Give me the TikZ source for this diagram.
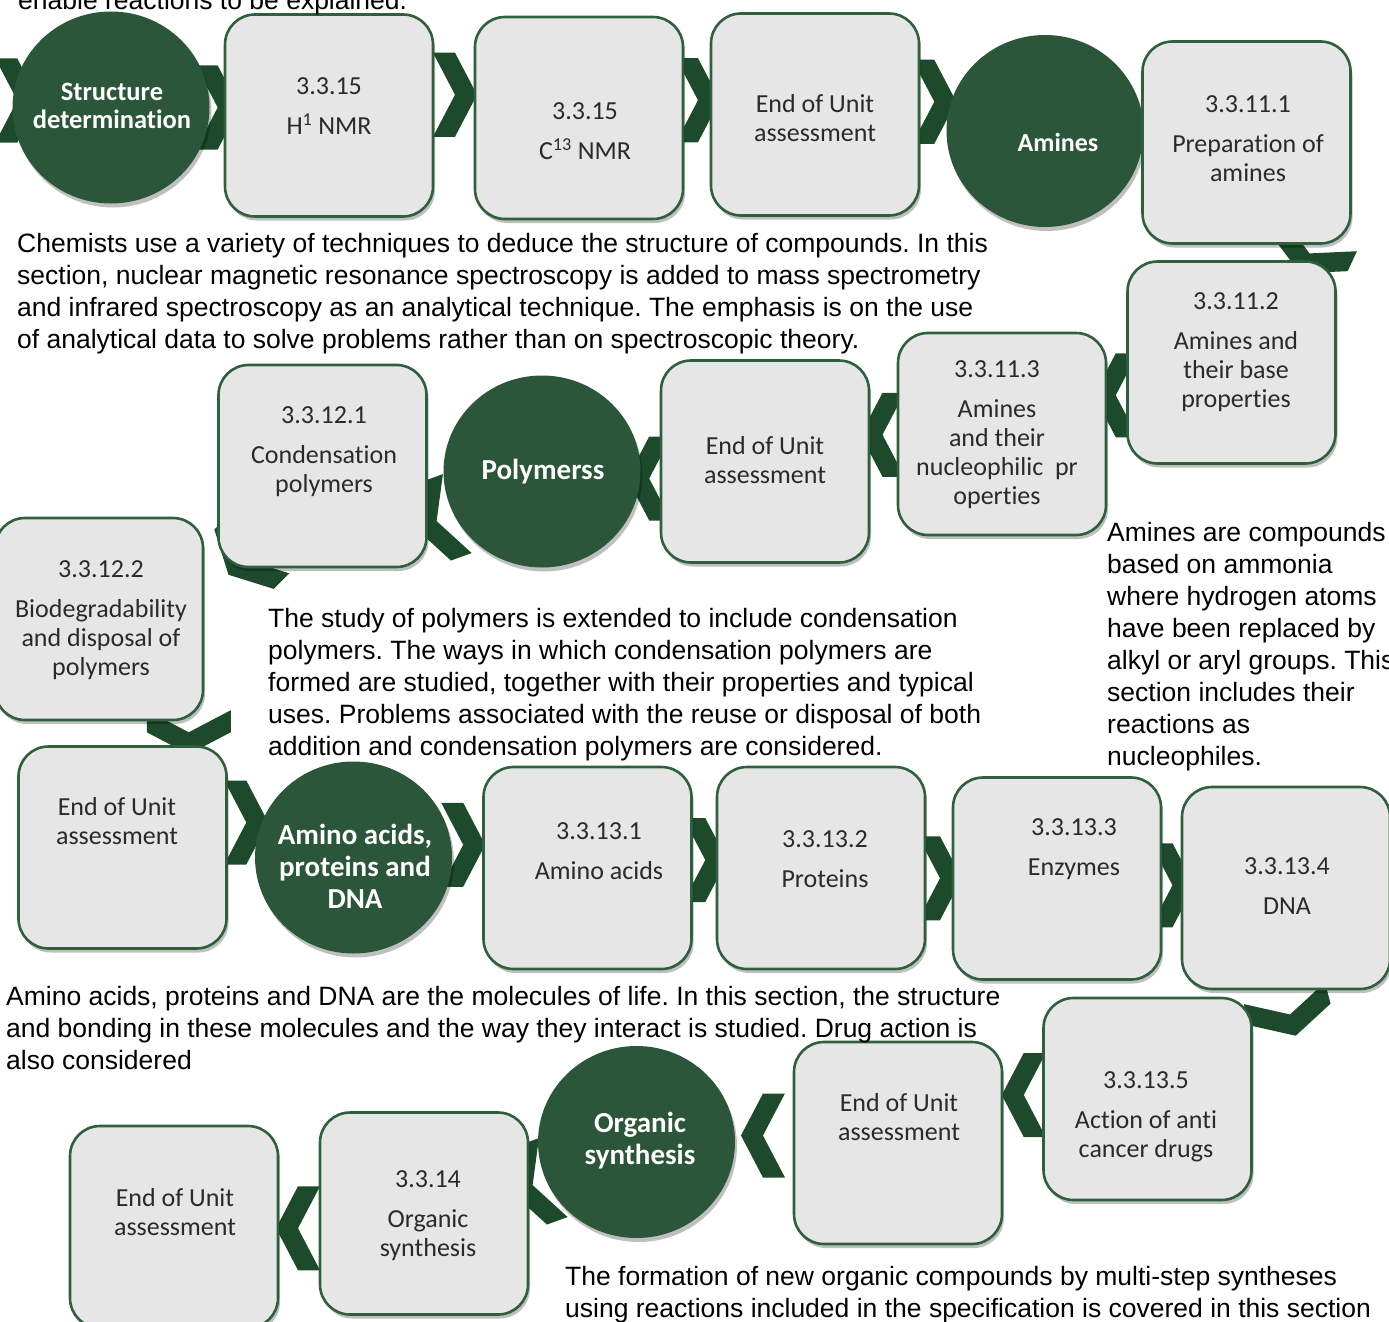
\documentclass[tikz,border=0pt]{standalone}
\usepackage{fontspec}
\setmainfont{Liberation Sans}
\newfontfamily\boxfont[Ligatures=NoCommon]{Carlito}
\usetikzlibrary{shapes.geometric,shadows,calc}
\definecolor{boxline}{HTML}{2F5F3C}
\definecolor{boxfill}{HTML}{E6E6E6}
\definecolor{circfill}{HTML}{2B5639}
\definecolor{chevc}{HTML}{1D4A2A}
\definecolor{btext}{HTML}{2A2A2A}
\pgfdeclarelayer{back}
\pgfdeclarelayer{bg}
\pgfsetlayers{back,bg,main}
\tikzset{
  box/.style={draw=boxline, line width=2.6pt, fill=boxfill, rounded corners=30pt,
    minimum width=208pt, minimum height=202pt, inner sep=0pt,
    drop shadow={shadow xshift=2pt, shadow yshift=-4pt, opacity=0.25, fill=black}},
  circ/.style={ellipse, fill=circfill, minimum width=197pt, minimum height=192pt,
    inner sep=0pt,
    drop shadow={shadow xshift=2pt, shadow yshift=-4pt, opacity=0.25, fill=black}},
  ctext/.style={text=white, align=center, inner sep=0pt},
  bt/.style={font=\boxfont\fontsize{26}{29}\selectfont, align=center, text=btext, inner sep=0pt},
  para/.style={font=\fontsize{26.5}{32}\selectfont, anchor=base west, inner sep=0pt, text=black},
  chev/.pic={\fill[chevc] (-21,-42) -- (1,-42) -- (23,0) -- (1,42) -- (-21,42) -- (1,0) -- cycle;}
}
\frenchspacing
\begin{document}
\begin{tikzpicture}[x=1pt,y=-1pt]
\useasboundingbox (0,0) rectangle (1389,1322);
\begin{pgfonlayer}{back}
\fill[white] (0,0) rectangle (1389,1322);
\end{pgfonlayer}

% ---------- row 1 ----------
\node[circ] (sd) at (111,107.5) {};
\node[box] (h1) at (329,115.5) {};
\node[box] (c13b) at (579,118) {};
\node[box] (eou1) at (815,114.5) {};
\node[circ] (am) at (1045,131) {};
\node[box] (prep) at (1246.5,142.5) {};

% ---------- row 2 ----------
\node[box] (b3112) at (1231.5,362.5) {};
\node[box] (b3113) at (1002,434) {};
\node[box] (eou2) at (765,461.5) {};
\node[circ] (poly) at (542,471.5) {};
\node[box] (b3121) at (322.5,466) {};
\node[box] (b3122) at (99,619) {};

% ---------- row 3 ----------
\node[box] (eou3) at (122.5,847.5) {};
\node[circ] (amino) at (353.5,857.5) {};
\node[box] (b3131) at (587.5,868) {};
\node[box] (b3132) at (821,868) {};
\node[box] (b3133) at (1057,878.5) {};
\node[box] (b3134) at (1286,888) {};

% ---------- row 4 ----------
\node[box] (b3135) at (1147.5,1099) {};
\node[box] (eou4) at (898,1143) {};
\node[circ] (org) at (636.5,1142) {};
\node[box] (b3314) at (424,1213.5) {};
\node[box] (eou5) at (174,1227) {};

% ---------- circle texts ----------
\node[ctext, font=\boxfont\bfseries\fontsize{26.5}{28}\selectfont] (sd-t) at (112,106) {Structure\\determination};
\node[ctext, font=\boxfont\bfseries\fontsize{26}{29}\selectfont] (am-t) at (1058,142) {Amines};
\node[ctext, font=\boxfont\bfseries\fontsize{29}{32}\selectfont] (poly-t) at (543,472) {Polymerss};
\node[ctext, font=\boxfont\bfseries\fontsize{29}{32}\selectfont] (amino-t) at (355,866) {Amino acids,\\proteins and\\DNA};
\node[ctext, font=\boxfont\bfseries\fontsize{29}{32}\selectfont] (org-t) at (640,1141) {Organic\\synthesis};

% ---------- box texts ----------
\node[bt] (t-h1) at (329,106) {3.3.15\\[11pt]H\textsuperscript{1} NMR};
\node[bt] (t-c13) at (585,131) {3.3.15\\[11pt]C\textsuperscript{13} NMR};
\node[bt] (t-eou1) at (815,118) {End of Unit\\assessment};
\node[bt] (t-prep) at (1248,139) {3.3.11.1\\[11pt]Preparation of\\amines};
\node[bt] (t-3112) at (1236,352) {3.3.11.2\\[11pt]Amines and\\their base\\properties};
\node[bt] (t-3113) at (997,435) {3.3.11.3\\[11pt]Amines\\and their\\nucleophilic\ \ pr\\operties};
\node[bt] (t-eou2) at (765,460.5) {End of Unit\\assessment};
\node[bt] (t-3121) at (324,452) {3.3.12.1\\[11pt]Condensation\\polymers};
\node[bt] (t-3122) at (101,620) {3.3.12.2\\[11pt]Biodegradability\\and disposal of\\polymers};
\node[bt] (t-eou3) at (117,821.5) {End of Unit\\assessment};
\node[bt] (t-3131) at (599,851) {3.3.13.1\\[11pt]Amino acids};
\node[bt] (t-3132) at (825,859) {3.3.13.2\\[11pt]Proteins};
\node[bt] (t-3133) at (1074,849) {3.3.13.3\\[11pt]Enzymes};
\node[bt] (t-3134) at (1287,886) {3.3.13.4\\[11pt]DNA};
\node[bt] (t-3135) at (1146,1117) {3.3.13.5\\[11pt]Action of anti\\cancer drugs};
\node[bt] (t-eou4) at (899,1117.5) {End of Unit\\assessment};
\node[bt] (t-3314) at (428,1216) {3.3.14\\[11pt]Organic\\synthesis};
\node[bt] (t-eou5) at (175,1212) {End of Unit\\assessment};

% ---------- chevrons (behind) ----------
\begin{pgfonlayer}{bg}
\pic at ($(sd.west)+(4,-7)$) {chev};
\pic at ($(sd.east)!.5!(h1.west)+(0,-4)$) {chev};
\pic at ($(h1.east)!.5!(c13b.west)+(0,-22)$) {chev};
\pic at ($(c13b.east)!.5!(eou1.west)+(0,-16)$) {chev};
\pic at ($(eou1.east)!.5!(am.west)+(0,-21)$) {chev};
\pic[rotate=-115] at ($(prep.south)!.5!(b3112.north)+(71,0)$) {chev};
\pic[rotate=180] at ($(b3112.west)!.5!(b3113.east)+(0,-3)$) {chev};
\pic[rotate=180] at ($(b3113.west)!.5!(eou2.east)+(0,-13)$) {chev};
\pic[rotate=180] at ($(eou2.west)!.5!(poly.east)+(0,12)$) {chev};
\pic[rotate=200] at ($(poly.west)!.5!(b3121.east)+(2,52)$) {chev};
\pic[rotate=-135] at ($(b3121.south west)!.5!(b3122.north east)+(34,16)$) {chev};
\pic[rotate=-90] at ($(b3122.south)!.5!(eou3.north)+(78,-2)$) {chev};
\pic at ($(eou3.east)!.5!(amino.west)+(4,-30)$) {chev};
\pic at ($(amino.east)!.5!(b3131.west)+(-5,-18)$) {chev};
\pic at ($(b3131.east)!.5!(b3132.west)+(0,-8)$) {chev};
\pic at ($(b3132.east)!.5!(b3133.west)+(0,5)$) {chev};
\pic at ($(b3133.east)!.5!(b3134.west)+(0,2)$) {chev};
\pic[rotate=-75] at ($(b3134.south)!.5!(b3135.north)+(73,20)$) {chev};
\pic[rotate=180] at ($(b3135.west)!.5!(eou4.east)+(2,-26)$) {chev};
\pic[rotate=180] at ($(eou4.west)!.5!(org.east)+(0,-7)$) {chev};
\pic[rotate=200] at ($(org.west)!.5!(b3314.east)+(0,7)$) {chev};
\pic[rotate=180] at ($(b3314.west)!.5!(eou5.east)+(0,8)$) {chev};
\end{pgfonlayer}

% ---------- paragraphs ----------
\node[para] (p0) at (18,10) {enable reactions to be explained.};

\node[para] (p1a) at (17,252) {Chemists use a variety of techniques to deduce the structure of compounds. In this};
\node[para] (p1b) at (17,284) {section, nuclear magnetic resonance spectroscopy is added to mass spectrometry};
\node[para] (p1c) at (17,316) {and infrared spectroscopy as an analytical technique. The emphasis is on the use};
\node[para] (p1d) at (17,348) {of analytical data to solve problems rather than on spectroscopic theory.};

\node[para] (p2a) at (1107,541) {Amines are compounds};
\node[para] (p2b) at (1107,573) {based on ammonia};
\node[para] (p2c) at (1107,605) {where hydrogen atoms};
\node[para] (p2d) at (1107,637) {have been replaced by};
\node[para] (p2e) at (1107,669) {alkyl or aryl groups. This};
\node[para] (p2f) at (1107,701) {section includes their};
\node[para] (p2g) at (1107,733) {reactions as};
\node[para] (p2h) at (1107,765) {nucleophiles.};

\node[para] (p3a) at (268,627) {The study of polymers is extended to include condensation};
\node[para] (p3b) at (268,659) {polymers. The ways in which condensation polymers are};
\node[para] (p3c) at (268,691) {formed are studied, together with their properties and typical};
\node[para] (p3d) at (268,723) {uses. Problems associated with the reuse or disposal of both};
\node[para] (p3e) at (268,755) {addition and condensation polymers are considered.};

\node[para] (p4a) at (6,1005) {Amino acids, proteins and DNA are the molecules of life. In this section, the structure};
\node[para] (p4b) at (6,1037) {and bonding in these molecules and the way they interact is studied. Drug action is};
\node[para] (p4c) at (6,1069) {also considered};

\node[para] (p5a) at (565,1285) {The formation of new organic compounds by multi-step syntheses};
\node[para] (p5b) at (565,1317) {using reactions included in the specification is covered in this section};
\end{tikzpicture}
\end{document}
